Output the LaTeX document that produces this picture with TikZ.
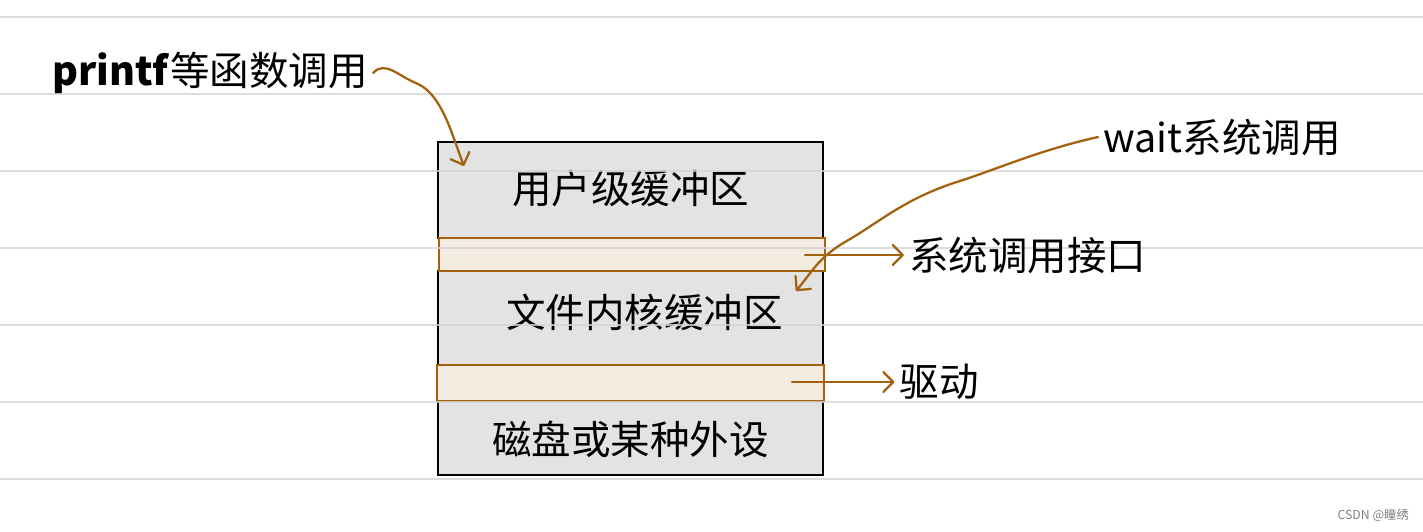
\documentclass[tikz,border=0pt]{standalone}
\usepackage{fontspec}
\setmainfont{Noto Sans CJK SC}
\usetikzlibrary{arrows.meta}
\usetikzlibrary{positioning}
\usepackage{xcolor}
\definecolor{penbrown}{RGB}{163,98,16}
\definecolor{bandfill}{RGB}{244,236,225}
\definecolor{boxfill}{RGB}{227,227,227}
\definecolor{ruleline}{RGB}{212,212,212}

\begin{document}
\begin{tikzpicture}[x=0.02cm, y=-0.02cm]
    \tikzset{Buffer/.style={rectangle, draw=black, fill=boxfill, line width=1.3pt, minimum width=7.7cm, anchor=north west, inner sep=0pt, font=\fontsize{22.5}{26}\selectfont}};
    \tikzset{Band/.style={rectangle, draw=penbrown, fill=bandfill, line width=1.3pt, minimum width=7.72cm, anchor=north west, inner sep=0pt}};
    \tikzset{Label/.style={inner sep=0.1cm, font=\fontsize{22.5}{26}\selectfont}};
    \tikzset{Pen/.style={draw=penbrown, line width=1.3pt, line cap=round, -{Straight Barb[length=2mm, width=4mm, round]}}};
    \useasboundingbox (0,0) rectangle (1423,531);

    \node[Buffer, minimum height=1.92cm, text depth=0.12cm](usr) at (437,141) {用户级缓冲区};
    \node[Buffer, minimum height=1.9cm, text depth=0.3cm](kern) at (437,270) {\hspace{16pt}文件内核缓冲区};
    \node[Buffer, minimum height=1.48cm, text depth=0cm](disk) at (437,400) {磁盘或某种外设};
    \node[Band, minimum height=0.66cm](sys) at (438,237) {};
    \node[Band, minimum height=0.72cm, minimum width=7.74cm](drv) at (436,364) {};

    % ruled paper
    \foreach \y in {17,94,171,248,325,402,479}
        \draw[ruleline, line width=0.8pt, opacity=0.8] (0,\y) -- (1423,\y);

    \node[Label, anchor=west](printf) at (47,73) {\textbf{printf}等函数调用};
    \node[Label, anchor=west](wait) at (1098,137) {wait系统调用};
    \coordinate (sysa) at (805,255);
    \coordinate (drva) at (792,382);
    \node[Label, right=1.98cm of sysa, anchor=west](syslbl) {系统调用接口};
    \node[Label, right=2.05cm of drva, anchor=west](drvlbl) {驱动};
    \coordinate (usrin) at (464,166);
    \coordinate (kernin) at (796,291);

    \draw[Pen] (printf.east) .. controls (385,60) and (398,76) .. (418,84)
        .. controls (442,95) and (452,135) .. (usrin);
    \draw[Pen] (wait.west) .. controls (1040,150) and (1000,168) .. (960,181)
        .. controls (905,198) and (880,222) .. (845,242)
        .. controls (818,258) and (812,272) .. (kernin);
    \draw[Pen] (sysa) -- (syslbl);
    \draw[Pen] (drva) -- (drvlbl);

    \node[font=\fontsize{7}{8}\selectfont, text=gray, anchor=east](mark) at (1415,515) {CSDN @瞳绣};
\end{tikzpicture}
\end{document}
